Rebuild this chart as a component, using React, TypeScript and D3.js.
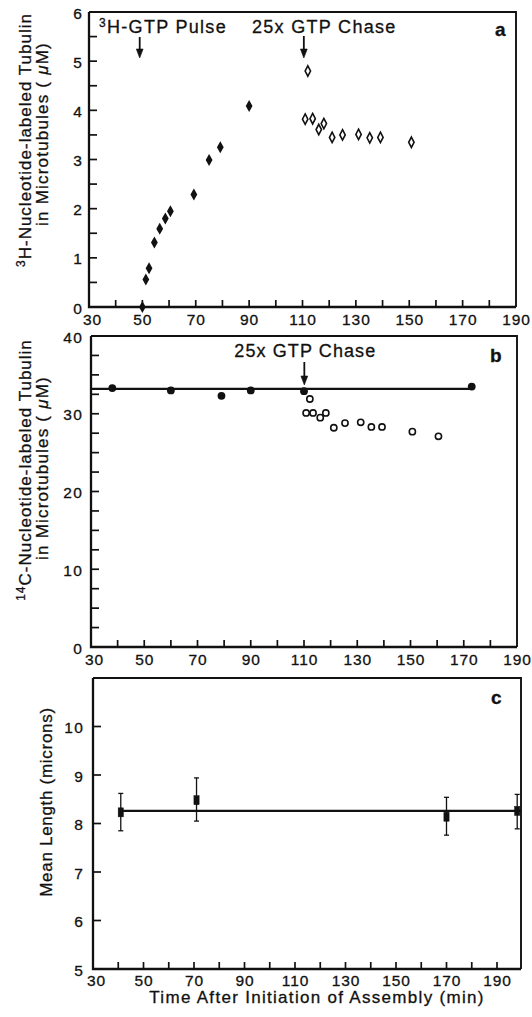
import React from 'react';
import * as d3 from 'd3';

// ---------- data ----------
const xTickLabels = [30, 50, 70, 90, 110, 130, 150, 170, 190];
const yTicksA = [0, 1, 2, 3, 4, 5, 6];
const yTicksB = [0, 10, 20, 30, 40];
const yTicksC = [5, 6, 7, 8, 9, 10];

// panel a: 3H pulse (filled diamonds) and chase (open diamonds)
const pulseTime = [50, 51.3, 52.5, 54.5, 56.5, 58.6, 60.5, 69.3, 75, 79.2, 90];
const pulseTubulin = [0, 0.56, 0.79, 1.31, 1.59, 1.8, 1.95, 2.29, 2.99, 3.25, 4.09];
const chaseTimeA = [112, 111, 113.8, 116.1, 118, 121.1, 125, 131, 135.2, 139.2, 150.8];
const chaseTubulinA = [4.8, 3.82, 3.83, 3.61, 3.73, 3.45, 3.5, 3.51, 3.44, 3.45, 3.35];

// panel b: 14C before chase (filled circles) and after chase (open circles)
const steadyTimeB = [38, 60, 79, 90, 110, 173];
const steadyTubulinB = [33.3, 33.0, 32.3, 33.0, 32.9, 33.5];
const chaseTimeB = [112.2, 110.8, 113.4, 116.1, 118.2, 121.2, 125.4, 131.3, 135.3, 139.3, 150.7, 160.5];
const chaseTubulinB = [31.9, 30.1, 30.1, 29.5, 30.1, 28.2, 28.8, 28.9, 28.3, 28.3, 27.7, 27.1];
const fitLevelB = 33.2;

// panel c: mean length with error bars
const lengthTime = [41, 71, 170, 198];
const lengthMean = [8.23, 8.48, 8.14, 8.26];
const lengthLow = [7.85, 8.05, 7.76, 7.89];
const lengthHigh = [8.62, 8.94, 8.54, 8.6];
const fitLevelC = 8.26;

const pulseArrowTime = 49;
const chaseArrowTime = 110.5;

const FONT = '"Liberation Sans", Arial, Helvetica, sans-serif';
const INK = '#111';
const TXT = { fontFamily: FONT, fill: INK, stroke: INK, strokeWidth: 0.3 } as const;

type Lin = d3.ScaleLinear<number, number>;

function Frame({ x, y, xTicks, yMinor }: { x: Lin; y: Lin; xTicks: number[]; yMinor: number[] }) {
  const [x0, x1] = x.range();
  const [y0, y1] = y.range();
  return (
    <g stroke={INK} fill="none">
      <path d={`M${x0},${y1}V${y0}H${x1}`} strokeWidth={2.3} />
      <path d={`M${x0},${y1}H${x1}V${y0}`} strokeWidth={1.9} />
      {xTicks.map((v) => (
        <line key={'x' + v} x1={x(v)} x2={x(v)} y1={y0} y2={y0 - 7} strokeWidth={1.7} />
      ))}
      {yMinor.map((v) => (
        <line key={'y' + v} x1={x0} x2={x0 + 8} y1={y(v)} y2={y(v)} strokeWidth={1.7} />
      ))}
    </g>
  );
}

function XLabels({ x, yPos }: { x: Lin; yPos: number }) {
  return (
    <g {...TXT} fontSize={15.5} textAnchor="middle" letterSpacing={0.9}>
      {xTickLabels.map((v, i) => (
        <text key={v} x={x(v) + 0.5 + (i === 0 ? 3 : 0)} y={yPos}>
          {v}
        </text>
      ))}
    </g>
  );
}

function YLabels({ y, ticks, xPos }: { y: Lin; ticks: number[]; xPos: number }) {
  return (
    <g {...TXT} fontSize={15.5} textAnchor="end" letterSpacing={1.2}>
      {ticks.map((v) => (
        <text key={v} x={xPos} y={y(v) + 6.5}>
          {v}
        </text>
      ))}
    </g>
  );
}

function Arrow({ x, yTop, yBot }: { x: number; yTop: number; yBot: number }) {
  return (
    <g fill={INK} stroke={INK}>
      <line x1={x} x2={x} y1={yTop} y2={yBot - 6} strokeWidth={1.8} />
      <path d={`M${x - 3.4},${yBot - 9}L${x + 3.4},${yBot - 9}L${x},${yBot}Z`} strokeWidth={0.6} />
    </g>
  );
}

const diamond = (w: number, h: number) => `M0,${-h}L${w},0L0,${h}L${-w},0Z`;

export default function App() {
  const xa = d3.scaleLinear().domain([30, 190]).range([89, 516]);
  const ya = d3.scaleLinear().domain([0, 6]).range([307, 12]);
  const xb = d3.scaleLinear().domain([30, 190]).range([91, 517]);
  const yb = d3.scaleLinear().domain([0, 40]).range([647, 336]);
  const xcBase = d3.scaleLinear().domain([30, 190]).range([93, 497]);
  const xc = d3.scaleLinear().domain([30, xcBase.invert(521)]).range([93, 521]);
  const yc = d3.scaleLinear().domain([5, 11]).range([969, 678]);

  const xTicksAB = d3.range(40, 190, 10);
  const xTicksC = d3.range(40, 200, 10);
  const yMinorA = d3.range(0.5, 6, 0.5);
  const yMinorB = d3.range(2.5, 40, 2.5);
  const yMinorC = d3.range(6, 11, 1);

  const lineB = d3.line<number>().x((d) => xb(d)).y(() => yb(fitLevelB));
  const lineC = d3.line<number>().x((d) => xc(d)).y(() => yc(fitLevelC));

  return (
    <svg width={532} height={1017} style={{ position: 'absolute', left: 0, top: 0, background: '#fff' }}>
      <rect width={532} height={1017} fill="#fff" />

      {/* ---------- panel a ---------- */}
      <Frame x={xa} y={ya} xTicks={xTicksAB} yMinor={yMinorA} />
      <YLabels y={ya} ticks={yTicksA} xPos={83} />
      <XLabels x={xa} yPos={325} />
      {pulseTime.map((t, i) => (
        <path key={'pa' + i} d={diamond(3.4, 6)} transform={`translate(${xa(t)},${ya(pulseTubulin[i])})`} fill={INK} />
      ))}
      {chaseTimeA.map((t, i) => (
        <path
          key={'ca' + i}
          d={diamond(2.7, 5.2)}
          transform={`translate(${xa(t)},${ya(chaseTubulinA[i])})`}
          fill="#fff"
          stroke={INK}
          strokeWidth={1.6}
        />
      ))}
      <Arrow x={xa(pulseArrowTime)} yTop={37} yBot={58} />
      <Arrow x={xa(chaseArrowTime)} yTop={36} yBot={58} />
      <text x={99} y={33} {...TXT} fontSize={18} letterSpacing={1.3}>
        <tspan fontSize={12} dy={-6}>3</tspan>
        <tspan dy={6}>H-GTP Pulse</tspan>
      </text>
      <text x={252} y={33} {...TXT} fontSize={18} letterSpacing={1.3}>
        25x GTP Chase
      </text>
      <text x={495} y={36} {...TXT} fontSize={19} fontWeight="bold">
        a
      </text>
      <text transform="translate(31,140) rotate(-90)" textAnchor="middle" {...TXT} fontSize={17} letterSpacing={1}>
        <tspan fontSize={12} dy={-6}>3</tspan>
        <tspan dy={6}>H-Nucleotide-labeled Tubulin</tspan>
      </text>
      <text transform="translate(48,134) rotate(-90)" textAnchor="middle" {...TXT} fontSize={17} letterSpacing={1.2}>
        in Microtubules ( <tspan fontStyle="italic">μ</tspan>M)
      </text>

      {/* ---------- panel b ---------- */}
      <Frame x={xb} y={yb} xTicks={xTicksAB} yMinor={yMinorB} />
      <YLabels y={yb} ticks={yTicksB} xPos={83} />
      <XLabels x={xb} yPos={665} />
      <path d={lineB([30, 173]) || ''} stroke={INK} strokeWidth={2.2} fill="none" />
      {steadyTimeB.map((t, i) => (
        <circle key={'sb' + i} cx={xb(t)} cy={yb(steadyTubulinB[i])} r={3.9} fill={INK} />
      ))}
      {chaseTimeB.map((t, i) => (
        <circle
          key={'cb' + i}
          cx={xb(t)}
          cy={yb(chaseTubulinB[i])}
          r={3.1}
          fill="#fff"
          stroke={INK}
          strokeWidth={1.6}
        />
      ))}
      <Arrow x={xb(chaseArrowTime) - 1} yTop={362} yBot={385} />
      <text x={xb(chaseArrowTime)} y={357} textAnchor="middle" {...TXT} fontSize={18} letterSpacing={1.1}>
        25x GTP Chase
      </text>
      <text x={490} y={362} {...TXT} fontSize={19} fontWeight="bold">
        b
      </text>
      <text transform="translate(31,470) rotate(-90)" textAnchor="middle" {...TXT} fontSize={17} letterSpacing={1}>
        <tspan fontSize={12} dy={-6}>14</tspan>
        <tspan dy={6}>C-Nucleotide-labeled Tubulin</tspan>
      </text>
      <text transform="translate(48,468) rotate(-90)" textAnchor="middle" {...TXT} fontSize={17} letterSpacing={1.2}>
        in Microtubules ( <tspan fontStyle="italic">μ</tspan>M)
      </text>

      {/* ---------- panel c ---------- */}
      <Frame x={xc} y={yc} xTicks={xTicksC} yMinor={yMinorC} />
      <YLabels y={yc} ticks={yTicksC} xPos={84} />
      <XLabels x={xcBase} yPos={986} />
      <path d={lineC([lengthTime[0], xc.domain()[1]]) || ''} stroke={INK} strokeWidth={2.2} fill="none" />
      {lengthTime.map((t, i) => {
        const cx = xc(t);
        return (
          <g key={'c' + i} stroke={INK}>
            <line x1={cx} x2={cx} y1={yc(lengthLow[i])} y2={yc(lengthHigh[i])} strokeWidth={1.3} />
            <line x1={cx - 2.5} x2={cx + 2.5} y1={yc(lengthLow[i])} y2={yc(lengthLow[i])} strokeWidth={1.3} />
            <line x1={cx - 2.5} x2={cx + 2.5} y1={yc(lengthHigh[i])} y2={yc(lengthHigh[i])} strokeWidth={1.3} />
            <rect x={cx - 2.6} y={yc(lengthMean[i]) - 4.5} width={5.2} height={9} fill={INK} strokeWidth={0.5} />
          </g>
        );
      })}
      <text x={491} y={704} {...TXT} fontSize={19} fontWeight="bold">
        c
      </text>
      <text transform="translate(52,802) rotate(-90)" textAnchor="middle" {...TXT} fontSize={17} letterSpacing={0.7}>
        Mean Length (microns)
      </text>
      <text x={317} y={1003} textAnchor="middle" {...TXT} fontSize={17} letterSpacing={1.3}>
        Time After Initiation of Assembly (min)
      </text>
    </svg>
  );
}
